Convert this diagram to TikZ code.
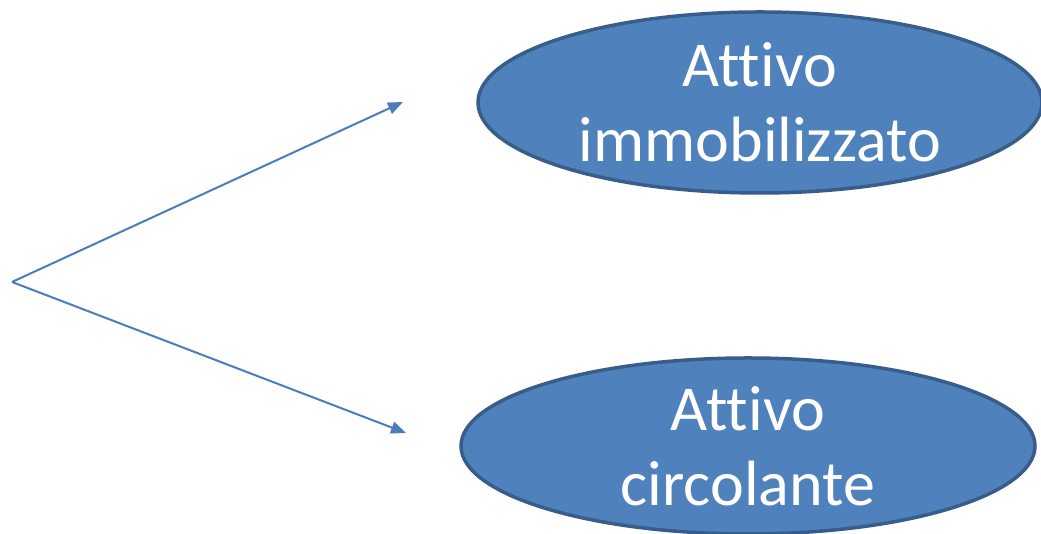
\documentclass[tikz,border=0pt]{standalone}
\usepackage{fontspec}
\setmainfont[Ligatures=NoCommon]{Carlito}
\usepackage{xcolor}
\usetikzlibrary{arrows.meta}
\usetikzlibrary{shapes.geometric}
\definecolor{ovalfill}{HTML}{4F81BD}
\definecolor{ovalline}{HTML}{385D8A}
\definecolor{arrowblue}{HTML}{4A7EBB}
\tikzstyle{oval} = [ellipse, draw=ovalline, fill=ovalfill,
	line width=3.5pt,
	inner sep=0pt,
	text=white,
	align=center,
	font=\fontsize{64}{75}\selectfont]
\tikzstyle{arrow} =[-{Triangle[length=15pt, width=12pt]}, line width=2pt, draw=arrowblue]

\begin{document}
\begin{tikzpicture}[x=1pt, y=1pt]
			\useasboundingbox (0,0) rectangle (1041,534);
			\node (immob)[oval, minimum width=564pt, minimum height=181pt] at (760, 431.5) {Attivo\\immobilizzato};
			\node (circ)[oval, minimum width=574pt, minimum height=176pt] at (748, 88) {Attivo\\circolante};
			
			\coordinate (split) at (12, 252);
			\coordinate (up) at (403, 432);
			\coordinate (down) at (406, 101);
			\draw [arrow] (split) -- (up);
			\draw [arrow] (split) -- (down);
		\end{tikzpicture}
\end{document}
